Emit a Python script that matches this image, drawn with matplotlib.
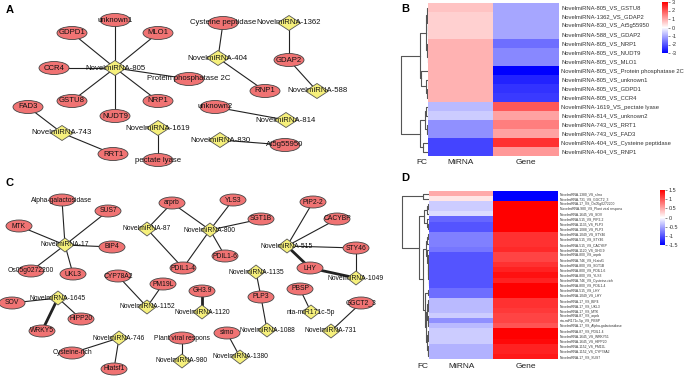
import matplotlib
matplotlib.use('Agg')
import matplotlib.pyplot as plt
from matplotlib.patches import Ellipse, Polygon
from matplotlib.ticker import FormatStrFormatter

plt.rcParams['font.family'] = ['Liberation Sans', 'DejaVu Sans']

W, H = 685, 378

# ---------------- panel A network ----------------
a_mirnas = {
    'NovelmiRNA-805': (115, 68), 'NovelmiRNA-743': (62, 133),
    'NovelmiRNA-1619': (158, 128), 'NovelmiRNA-404': (218, 58),
    'NovelmiRNA-1362': (289, 23), 'NovelmiRNA-588': (317, 91),
    'NovelmiRNA-814': (286, 120), 'NovelmiRNA-830': (220, 140),
}
a_genes = {
    'unknown1': (115, 20), 'GDPD1': (72, 33), 'MLO1': (158, 33),
    'CCR4': (54, 68), 'Protein phosphatase 2C': (189, 79),
    'GSTU8': (72, 101), 'NUDT9': (115, 116), 'NRP1': (158, 101),
    'FAD3': (28, 107), 'RRT1': (113, 154), 'pectate lyase': (158, 160),
    'Cysteine peptidase': (223, 23), 'RNP1': (265, 91), 'GDAP2': (289, 60),
    'unknown2': (215, 107), 'At5g55950': (285, 145),
}
a_edges = [
    ('NovelmiRNA-805', 'unknown1'), ('NovelmiRNA-805', 'GDPD1'),
    ('NovelmiRNA-805', 'MLO1'), ('NovelmiRNA-805', 'CCR4'),
    ('NovelmiRNA-805', 'Protein phosphatase 2C'), ('NovelmiRNA-805', 'GSTU8'),
    ('NovelmiRNA-805', 'NUDT9'), ('NovelmiRNA-805', 'NRP1'),
    ('NovelmiRNA-743', 'FAD3'), ('NovelmiRNA-743', 'RRT1'),
    ('NovelmiRNA-1619', 'pectate lyase'),
    ('NovelmiRNA-404', 'Cysteine peptidase'), ('NovelmiRNA-404', 'RNP1'),
    ('NovelmiRNA-1362', 'GDAP2'), ('NovelmiRNA-588', 'GDAP2'),
    ('NovelmiRNA-814', 'unknown2'), ('NovelmiRNA-830', 'At5g55950'),
]
a_thick = []

# ---------------- panel C network ----------------
c_mirnas = {
    'NovelmiRNA-17': (65, 245), 'NovelmiRNA-1645': (58, 298),
    'NovelmiRNA-746': (119, 338), 'NovelmiRNA-87': (147, 229),
    'NovelmiRNA-800': (210, 230), 'NovelmiRNA-1152': (147, 307),
    'NovelmiRNA-1120': (202, 312), 'NovelmiRNA-980': (182, 361),
    'NovelmiRNA-515': (287, 246), 'NovelmiRNA-1049': (356, 278),
    'NovelmiRNA-1135': (256, 272), 'NovelmiRNA-1088': (267, 330),
    'nta-miR171c-5p': (311, 312), 'NovelmiRNA-731': (331, 331),
    'NovelmiRNA-1380': (240, 357),
}
c_genes = {
    'Alpha-galactosidase': (62, 200), 'SUS7': (108, 211), 'MTK': (19, 226),
    'BIP4': (112, 247), 'Os05g0272200': (31, 271), 'UKL3': (73, 274),
    'SOV': (12, 303), 'HIPP20': (81, 319), 'WRKY5': (42, 331),
    'Cysteine-rich': (72, 353), 'Htatsf1': (114, 369), 'arprb': (172, 203),
    'PDIL1-4': (183, 268), 'CYP78A2': (118, 276), 'PM19L': (163, 284),
    'GH3.9': (202, 291), 'Plant viral respons': (182, 338),
    'YLS3': (233, 200), 'SGT1B': (261, 219), 'PDIL1-6': (225, 256),
    'PIP2-2': (313, 202), 'CACYBP': (337, 219), 'STY46': (356, 248),
    'LHY': (310, 268), 'PLP3': (261, 297), 'PBSP': (300, 289),
    'GGCT2_3': (361, 303), 'slmo': (227, 333),
}
c_edges = [
    ('NovelmiRNA-17', 'Alpha-galactosidase'), ('NovelmiRNA-17', 'SUS7'),
    ('NovelmiRNA-17', 'MTK'), ('NovelmiRNA-17', 'BIP4'),
    ('NovelmiRNA-17', 'Os05g0272200'), ('NovelmiRNA-17', 'UKL3'),
    ('NovelmiRNA-1645', 'SOV'), ('NovelmiRNA-1645', 'WRKY5'),
    ('NovelmiRNA-1645', 'HIPP20'),
    ('NovelmiRNA-746', 'Cysteine-rich'), ('NovelmiRNA-746', 'Htatsf1'),
    ('NovelmiRNA-87', 'arprb'), ('NovelmiRNA-87', 'PDIL1-4'),
    ('NovelmiRNA-800', 'arprb'), ('NovelmiRNA-800', 'PDIL1-4'),
    ('NovelmiRNA-800', 'YLS3'), ('NovelmiRNA-800', 'SGT1B'),
    ('NovelmiRNA-800', 'PDIL1-6'),
    ('NovelmiRNA-1152', 'CYP78A2'), ('NovelmiRNA-1152', 'PM19L'),
    ('NovelmiRNA-1120', 'GH3.9'), ('NovelmiRNA-980', 'Plant viral respons'),
    ('NovelmiRNA-515', 'PIP2-2'), ('NovelmiRNA-515', 'CACYBP'),
    ('NovelmiRNA-515', 'STY46'), ('NovelmiRNA-515', 'LHY'),
    ('NovelmiRNA-1049', 'STY46'), ('NovelmiRNA-1049', 'LHY'),
    ('NovelmiRNA-1135', 'PLP3'), ('NovelmiRNA-1088', 'PLP3'),
    ('nta-miR171c-5p', 'PBSP'), ('NovelmiRNA-731', 'GGCT2_3'),
    ('NovelmiRNA-1380', 'slmo'),
]
c_thick = [('NovelmiRNA-1645', 'WRKY5'), ('NovelmiRNA-1120', 'GH3.9'),
           ('NovelmiRNA-515', 'LHY'), ('NovelmiRNA-1049', 'LHY')]

# ---------------- panel B heatmap ----------------
b_labels = [
    'NovelmiRNA-805_VS_GSTU8', 'NovelmiRNA-1362_VS_GDAP2',
    'NovelmiRNA-830_VS_At5g55950', 'NovelmiRNA-588_VS_GDAP2',
    'NovelmiRNA-805_VS_NRP1', 'NovelmiRNA-805_VS_NUDT9',
    'NovelmiRNA-805_VS_MLO1', 'NovelmiRNA-805_VS_Protein phosphatase 2C',
    'NovelmiRNA-805_VS_unknown1', 'NovelmiRNA-805_VS_GDPD1',
    'NovelmiRNA-805_VS_CCR4', 'NovelmiRNA-1619_VS_pectate lyase',
    'NovelmiRNA-814_VS_unknown2', 'NovelmiRNA-743_VS_RRT1',
    'NovelmiRNA-743_VS_FAD3', 'NovelmiRNA-404_VS_Cysteine peptidase',
    'NovelmiRNA-404_VS_RNP1',
]
b_mirna = [0.7, 0.55, 0.55, 0.55, 0.9, 0.9, 0.9, 0.9, 0.9, 0.9, 0.9,
           -0.8, -0.6, -1.3, -1.3, -2.2, -2.2]
b_gene = [-1.05, -1.05, -1.05, -1.05, -1.7, -1.4, -1.4, -3.0, -2.6, -2.4, -2.3,
          1.95, 1.1, 1.5, 1.1, 2.4, 1.2]
b_tree = (1.0,
          (0.3,
           (0.06, (0.03, 0, (0.01, 1, (0.005, 2, 3))), (0.02, 4, (0.01, 5, 6))),
           (0.25, 7, (0.08, 8, (0.04, 9, 10)))),
          (0.3,
           (0.12, (0.06, 11, 12), (0.04, 13, 14)),
           (0.17, 15, 16)))

# ---------------- panel D heatmap ----------------
d_labels = [
    'NovelmiRNA-1380_VS_slmo', 'NovelmiRNA-731_VS_GGCT2_3',
    'NovelmiRNA-17_VS_Os05g0272200', 'NovelmiRNA-980_VS_Plant viral respons',
    'NovelmiRNA-1645_VS_SOV', 'NovelmiRNA-515_VS_PIP2-2',
    'NovelmiRNA-1135_VS_PLP3', 'NovelmiRNA-1088_VS_PLP3',
    'NovelmiRNA-1049_VS_STY46', 'NovelmiRNA-515_VS_STY46',
    'NovelmiRNA-515_VS_CACYBP', 'NovelmiRNA-1120_VS_GH3.9',
    'NovelmiRNA-800_VS_arprb', 'NovelmiRNA-746_VS_Htatsf1',
    'NovelmiRNA-800_VS_SGT1B', 'NovelmiRNA-800_VS_PDIL1-6',
    'NovelmiRNA-800_VS_YLS3', 'NovelmiRNA-746_VS_Cysteine-rich',
    'NovelmiRNA-800_VS_PDIL1-4', 'NovelmiRNA-515_VS_LHY',
    'NovelmiRNA-1049_VS_LHY', 'NovelmiRNA-17_VS_BIP4',
    'NovelmiRNA-17_VS_UKL3', 'NovelmiRNA-17_VS_MTK',
    'NovelmiRNA-87_VS_arprb', 'nta-miR171c-5p_VS_PBSP',
    'NovelmiRNA-17_VS_Alpha-galactosidase', 'NovelmiRNA-87_VS_PDIL1-4',
    'NovelmiRNA-1645_VS_WRKY51', 'NovelmiRNA-1645_VS_HIPP20',
    'NovelmiRNA-1152_VS_PM19L', 'NovelmiRNA-1152_VS_CYP78A2',
    'NovelmiRNA-17_VS_SUS7',
]
d_mirna = [0.5, 0.15, -0.3, -0.3, -0.2, -0.9, -1.0, -1.0, -0.75, -0.75,
           -0.75, -0.8, -1.0, -1.0, -1.0, -1.0, -1.0, -1.0, -1.0, -0.85,
           -0.85, -0.4, -0.4, -0.4, -0.3, -0.65, -0.4, -0.3, -0.3, -0.3,
           -0.45, -0.45, -0.45]
d_gene = [-1.5, -1.5, 1.5, 1.5, 1.5, 1.5, 1.5, 1.5, 1.2, 1.2, 1.2, 1.25,
          1.1, 1.1, 1.2, 1.3, 1.4, 1.3, 1.5, 1.5, 1.5, 1.2, 1.2, 1.15,
          1.1, 1.1, 1.0, 1.5, 1.5, 1.45, 1.3, 1.3, 1.35]
d_tree = (1.0,
          (0.22, 0, 1),
          (0.37,
           (0.18,
            (0.08, (0.04, 2, 3), 4),
            (0.07, 5, (0.03, 6, 7))),
           (0.22,
            (0.12,
             (0.06, (0.03, 8, 9), 10),
             (0.09, 11, (0.05, (0.02, 12, 13),
                         (0.03, 14, (0.02, 15, (0.01, 16, (0.01, 17, 18))))))),
            (0.15,
             (0.05, 19, 20),
             (0.1,
              (0.06, (0.03, 21, (0.02, 22, 23)), (0.04, 24, (0.03, 25, 26))),
              (0.07, (0.04, 27, (0.02, 28, 29)), (0.03, 30, (0.02, 31, 32))))))))

cols = ['MiRNA', 'Gene']

fig = plt.figure(figsize=(6.85, 3.78), dpi=100)


def px_axes(x, y, w, h):
    return fig.add_axes([x / W, 1 - (y + h) / H, w / W, h / H])


def draw_net(ax, mirnas, genes, edges, thick, ew, eh, dw, dh, fs):
    for m, g in edges:
        x1, y1 = mirnas[m]
        x2, y2 = genes[g]
        lw = 2.0 if (m, g) in thick else 0.8
        ax.plot([x1, x2], [y1, y2], color='#222222', lw=lw, zorder=1)
    for name, (x, y) in genes.items():
        ax.add_patch(Ellipse((x, y), ew, eh, fc='#F07373', ec='#444444',
                             lw=0.6, zorder=2))
        ax.text(x, y, name, ha='center', va='center', fontsize=fs,
                color='#111111', zorder=5)
    for name, (x, y) in mirnas.items():
        pts = [(x - dw / 2, y), (x, y - dh / 2), (x + dw / 2, y), (x, y + dh / 2)]
        ax.add_patch(Polygon(pts, closed=True, fc='#F6F07C', ec='#555555',
                             lw=0.6, zorder=3))
        ax.text(x, y, name, ha='center', va='center', fontsize=fs,
                color='#111111', zorder=5)


def draw_tree(ax, node):
    if isinstance(node, int):
        return node, 0.0
    h, left, right = node
    yl, hl = draw_tree(ax, left)
    yr, hr = draw_tree(ax, right)
    ax.plot([hl, h, h, hr], [yl, yl, yr, yr], color='#555555', lw=0.8)
    return (yl + yr) / 2, h


def draw_heat(hx, hy, hw, hh, labels, mirna, gene, tree, vmax, lab_fs,
              cb_box, cb_ticks, lab_y):
    n = len(labels)
    ax = px_axes(hx, hy, hw, hh)
    data = [[mirna[i], gene[i]] for i in range(n)]
    im = ax.imshow(data, cmap='bwr', vmin=-vmax, vmax=vmax, aspect='auto',
                   interpolation='nearest')
    ax.set_xticks([])
    ax.set_yticks(range(n))
    ax.set_yticklabels(labels, fontsize=lab_fs, color='#333333')
    ax.yaxis.tick_right()
    ax.tick_params(axis='y', length=0, pad=1.5)
    for s in ax.spines.values():
        s.set_visible(False)

    dax = px_axes(hx - 28, hy, 28, hh)
    draw_tree(dax, tree)
    dax.set_ylim(n - 0.5, -0.5)
    dax.set_xlim(1.04, 0)
    dax.axis('off')

    cax = px_axes(*cb_box)
    cb = fig.colorbar(im, cax=cax, ticks=cb_ticks,
                      format=FormatStrFormatter('%g'))
    cb.outline.set_visible(False)
    cax.tick_params(labelsize=4, length=1.5, width=0.4, pad=1, colors='#333333')

    cw = hw / 2
    fig.text((hx - 6) / W, 1 - lab_y / H, 'FC', ha='center', va='center',
             fontsize=6, color='#222222')
    for j, c in enumerate(cols):
        fig.text((hx + cw * (j + 0.5)) / W, 1 - lab_y / H, c, ha='center',
                 va='center', fontsize=6, color='#222222')


# network axes
nax = px_axes(0, 0, 395, H)
nax.set_xlim(0, 395)
nax.set_ylim(H, 0)
nax.axis('off')
draw_net(nax, a_mirnas, a_genes, a_edges, a_thick, 30, 13, 23, 15, 5.6)
draw_net(nax, c_mirnas, c_genes, c_edges, c_thick, 26, 12, 18, 14, 4.9)

draw_heat(428, 3, 131, 153, b_labels, b_mirna, b_gene, b_tree, 3, 4.2,
          (662, 2, 6, 51), [-3, -2, -1, 0, 1, 2, 3], 162)
draw_heat(429, 191, 129, 168, d_labels, d_mirna, d_gene, d_tree, 1.5, 2.4,
          (660, 190, 5, 55), [-1.5, -1, -0.5, 0, 0.5, 1, 1.5], 367)

for lab, x, y in [('A', 10, 10), ('B', 405, 9), ('C', 10, 183), ('D', 405, 178)]:
    fig.text(x / W, 1 - y / H, lab, ha='center', va='center', fontsize=8,
             fontweight='bold')

fig.savefig('out.png', dpi=100)
